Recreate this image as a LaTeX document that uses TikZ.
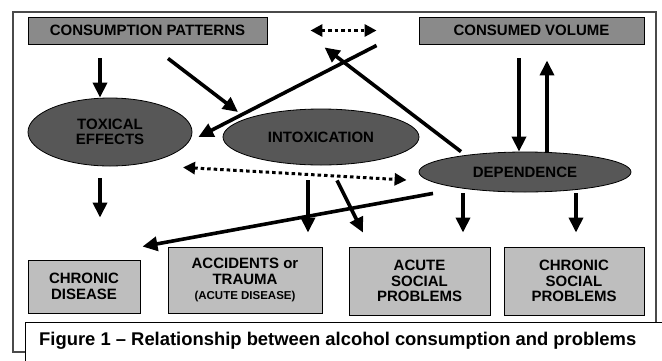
\documentclass[tikz,border=0pt]{standalone}
\usepackage{fontspec}
\setmainfont{Liberation Sans}
\usepackage{xcolor}
\usetikzlibrary{positioning,arrows.meta,shapes.geometric}

\definecolor{topgray}{HTML}{8A8A8A}
\definecolor{ellgray}{HTML}{575757}
\definecolor{probgray}{HTML}{BEBEBE}
\definecolor{framegray}{HTML}{4A4A4A}

\begin{document}
\begin{tikzpicture}[x=1pt, y=-1pt,
  topbox/.style={draw, line width=0.9pt, fill=topgray, minimum height=27pt, inner sep=0pt,
                 font=\fontsize{15}{16}\selectfont\bfseries},
  effect/.style={draw, ellipse, line width=0.8pt, fill=ellgray, inner sep=0pt, align=center,
                 font=\fontsize{15}{15.5}\selectfont\bfseries},
  problem/.style={draw, line width=0.9pt, fill=probgray, inner sep=0pt, align=center,
                  font=\fontsize{15}{15.5}\selectfont\bfseries},
  arr/.style={-{Triangle[length=15pt,width=14pt]}, line width=3.6pt},
  darr/.style={{Triangle[length=12pt,width=12pt]}-{Triangle[length=12pt,width=12pt]},
               line width=3pt, dash pattern=on 3.5pt off 3pt},
  frame/.style={draw=framegray, line width=1.3pt}
]
\useasboundingbox (0,0) rectangle (662,360);

%% Outer frame
\draw[frame] (13,12) rectangle (656,352);

%% Consumption (top row)
\node[topbox, minimum width=239pt] (cpat) at (147.5,30.5) {CONSUMPTION PATTERNS};
\node[topbox, minimum width=225pt] (cvol) at (531.5,30.5) {CONSUMED VOLUME};
\draw[darr, shorten <=43pt, shorten >=42pt] (cpat.east) -- (cvol.west);

%% Effects (ellipses)
\node[effect, minimum width=164pt, minimum height=68pt] (toxic) at (110,132) {TOXICAL\\EFFECTS};
\node[effect, minimum width=196pt, minimum height=56pt] (intox) at (321,137) {INTOXICATION};
\node[effect, minimum width=212pt, minimum height=40pt] (depend) at (525,172) {DEPENDENCE};

%% Problems (bottom row)
\node[problem, minimum width=112pt, minimum height=53pt] (chdis) at (84,286.5) {CHRONIC\\DISEASE};
\node[problem, minimum width=154pt, minimum height=66pt] (accid) at (245,280)
  {ACCIDENTS or\\TRAUMA\\{\fontsize{11.5}{13}\selectfont(ACUTE DISEASE)}};
\node[problem, minimum width=141pt, minimum height=68pt] (acsoc) at (419.5,281) {ACUTE\\SOCIAL\\PROBLEMS};
\node[problem, minimum width=140pt, minimum height=68pt] (chsoc) at (574,281) {CHRONIC\\SOCIAL\\PROBLEMS};

%% Arrows from consumption
\draw[arr, shorten <=14pt] ([xshift=-47.5pt]cpat.south) -- ([xshift=-10pt]toxic.north);
\draw[arr] ([shift={(20.5,14)}]cpat.south) -- ([shift={(-83,-25)}]intox.center);
\draw[arr] ([shift={(-42,1)}]cvol.south west) -- ([shift={(6,5)}]toxic.east);
\draw[arr, shorten <=14pt] ([xshift=-12.5pt]cvol.south) -- ([xshift=-6pt]depend.north);
\draw[arr] ([xshift=22pt]depend.north) -- ([shift={(15.5,16)}]cvol.south);
\draw[arr] ([xshift=-64pt]depend.north) -- ([shift={(-94,3)}]cvol.south west);

%% Arrows to problems
\draw[arr] ([shift={(-10,12)}]toxic.south) -- ([shift={(16,-42)}]chdis.north);
\draw[darr] ([shift={(-138,2)}]intox.south) -- ([shift={(-12,8)}]depend.west);
\draw[arr] ([shift={(-13,15)}]intox.south) -- ([shift={(63,-14)}]accid.north);
\draw[arr] ([shift={(16,15)}]intox.south) -- ([shift={(-56.5,-14)}]acsoc.north);
\draw[arr] ([shift={(-92,1)}]depend.south) -- ([shift={(2,-13)}]chdis.north east);
\draw[arr] ([shift={(-62,1)}]depend.south) -- ([shift={(43.5,-14)}]acsoc.north);
\draw[arr] ([shift={(51,1)}]depend.south) -- ([shift={(2,-14)}]chsoc.north);

%% Caption
\node[draw, line width=1pt, fill=white, anchor=north west, minimum width=660pt, minimum height=50pt,
      inner sep=0pt] (capframe) at (25,322) {};
\node[anchor=base west, inner sep=0pt, font=\fontsize{18.4}{20}\selectfont\bfseries] (captxt) at (39,345)
  {Figure 1 – Relationship between alcohol consumption and problems};
\end{tikzpicture}
\end{document}
